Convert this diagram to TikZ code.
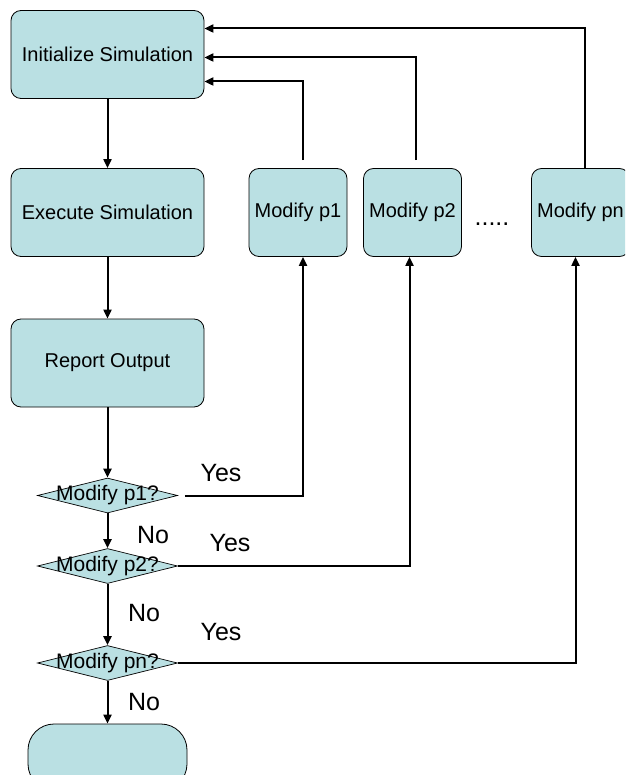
\documentclass[tikz,border=0pt]{standalone}
\usepackage{fontspec}
\setmainfont{Liberation Sans}
\usetikzlibrary{shapes.geometric,arrows.meta}
\definecolor{simfill}{RGB}{186,224,227}
\tikzset{
  box/.style={draw,fill=simfill,rounded corners=10pt,line width=0.8pt,
    minimum width=193pt,minimum height=88pt,inner sep=0pt,
    font=\fontsize{20}{22}\selectfont},
  modbox/.style={box,minimum width=98pt},
  decision/.style={draw,fill=simfill,diamond,line width=0.7pt,inner sep=0pt,
    minimum width=140pt,minimum height=35pt,
    label={[font=\fontsize{21}{23}\selectfont]center:#1}},
  stop/.style={draw,fill=simfill,rounded corners=26pt,line width=0.8pt,
    minimum width=159pt,minimum height=66pt},
  flow/.style={line width=2pt,-{Triangle[length=9pt,width=8pt]}},
  lbl/.style={font=\fontsize{25}{27}\selectfont,inner sep=0pt}
}
\begin{document}
\begin{tikzpicture}[x=1pt,y=-1pt]
  \clip (0,0) rectangle (625,775);
  % main column
  \node[box] (init) at (107.5,54.5) {Initialize Simulation};
  \node[box] (exec) at (107.5,212.5) {Execute Simulation};
  \node[box] (report) at (107.5,363) {Report Output};
  \node[decision=Modify p1?] (q1) at (107.5,495.5) {};
  \node[decision=Modify p2?] (q2) at (107.5,566) {};
  \node[decision=Modify pn?] (q3) at (107.5,663) {};
  \node[stop] (done) at (107.5,757) {};
  % parameter boxes
  \node[modbox] (p1) at (298,212.5) {Modify p1};
  \node[modbox] (p2) at (412.5,212.5) {Modify p2};
  \node[lbl,anchor=base] (dots) at (492,226) {.....};
  \node[modbox] (pn) at (580.5,212.5) {Modify pn};
  % yes / no
  \node[lbl] (yes1) at (221,473) {Yes};
  \node[lbl] (no1) at (153,535) {No};
  \node[lbl] (yes2) at (230,543) {Yes};
  \node[lbl] (no2) at (144,613) {No};
  \node[lbl] (yes3) at (221,632) {Yes};
  \node[lbl] (no3) at (144,702) {No};
  \draw[flow] (init) -- (exec);
  \draw[flow] (exec) -- (report);
  \draw[flow] (report) -- (q1);
  \draw[flow] (q1) -- (q2);
  \draw[flow] (q2) -- (q3);
  \draw[flow] (q3) -- (done);
  \draw[flow,shorten <=7pt] (q1.east) -| ([xshift=5pt]p1.south);
  \draw[flow] (q2.east) -| ([xshift=-3pt]p2.south);
  \draw[flow] (q3.east) -| ([xshift=-5pt]pn.south);
  \draw[flow,shorten <=8pt] ([xshift=5pt]p1.north) |- ([yshift=-27pt]init.east);
  \draw[flow,shorten <=8pt] ([xshift=3.5pt]p2.north) |- ([yshift=-3pt]init.east);
  \draw[flow] ([xshift=4.5pt]pn.north) |- ([yshift=26pt]init.east);
\end{tikzpicture}
\end{document}
